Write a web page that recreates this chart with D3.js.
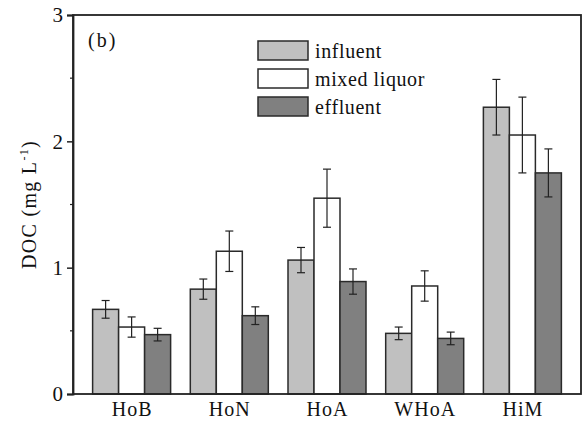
<!DOCTYPE html>
<html><head><meta charset="utf-8">
<script src="https://cdn.jsdelivr.net/npm/d3@7"></script>
<style>body{margin:0;background:#fff;} svg{display:block;} text{font-family:"Liberation Serif","Times New Roman",serif;fill:#111;}</style>
</head><body>
<script>
const categories = ["HoB","HoN","HoA","WHoA","HiM"];
const seriesNames = ["influent","mixed liquor","effluent"];
const influent = [0.67,0.83,1.06,0.48,2.27];
const influentErr = [0.07,0.08,0.10,0.05,0.22];
const mixedLiquor = [0.53,1.13,1.55,0.855,2.05];
const mixedLiquorErr = [0.08,0.16,0.23,0.12,0.30];
const effluent = [0.47,0.62,0.89,0.44,1.75];
const effluentErr = [0.05,0.07,0.10,0.05,0.19];
const yTicks = [0,1,2,3];
const yMinorTicks = [0.5,1.5,2.5];
const colors = ["#c0c0c0","#ffffff","#808080"];

const W=585,H=423;
const m={left:73,right:581,top:15,bottom:394};
const svg=d3.select("body").append("svg").attr("width",W).attr("height",H);

const x=d3.scalePoint().domain(categories).range([m.left,m.right]).padding(0.6);
const xs=d3.scaleBand().domain(seriesNames).range([-39,39]).paddingInner(0);
const y=d3.scaleLinear().domain([0,3]).range([m.bottom,m.top]);

const vals=[influent,mixedLiquor,effluent];
const errs=[influentErr,mixedLiquorErr,effluentErr];
const rows=[];
seriesNames.forEach((s,si)=>categories.forEach((c,ci)=>rows.push({s,si,c,v:vals[si][ci],e:errs[si][ci]})));

// bars
svg.append("g").selectAll("rect").data(rows).join("rect")
  .attr("x",d=>x(d.c)+xs(d.s)).attr("width",xs.bandwidth())
  .attr("y",d=>y(d.v)).attr("height",d=>y(0)-y(d.v))
  .attr("fill",d=>colors[d.si]).attr("stroke","#2a2a2a").attr("stroke-width",1.5);

// error bars
const eg=svg.append("g").attr("stroke","#222").attr("stroke-width",1.2);
rows.forEach(d=>{
  const cx=x(d.c)+xs(d.s)+xs.bandwidth()/2;
  eg.append("line").attr("x1",cx).attr("x2",cx).attr("y1",y(d.v+d.e)).attr("y2",y(d.v-d.e));
  [d.v+d.e,d.v-d.e].forEach(v=>eg.append("line").attr("x1",cx-4).attr("x2",cx+4).attr("y1",y(v)).attr("y2",y(v)));
});

// frame
svg.append("rect").attr("x",m.left).attr("y",m.top).attr("width",m.right-m.left).attr("height",m.bottom-m.top)
  .attr("fill","none").attr("stroke","#222").attr("stroke-width",1.8);

// y axis
const ya=svg.append("g").attr("transform",`translate(${m.left},0)`)
  .call(d3.axisLeft(y).tickValues(yTicks).tickFormat(d3.format("d")).tickSize(6).tickPadding(4));
ya.select(".domain").attr("stroke","#222").attr("stroke-width",1.8);
ya.selectAll(".tick line").attr("stroke","#222").attr("stroke-width",1.5);
ya.selectAll("text").attr("font-size",21).attr("font-family","Liberation Serif").attr("fill","#111");
svg.append("g").selectAll("line").data(yMinorTicks).join("line")
  .attr("x1",m.left-3).attr("x2",m.left).attr("y1",d=>y(d)).attr("y2",d=>y(d))
  .attr("stroke","#222").attr("stroke-width",1.2);

// x axis labels
const xa=svg.append("g").attr("transform",`translate(0,${m.bottom})`)
  .call(d3.axisBottom(x).tickSize(0).tickPadding(8));
xa.select(".domain").remove();
xa.selectAll("text").attr("font-size",20).attr("letter-spacing",1).attr("font-family","Liberation Serif").attr("fill","#111");

// y label
const yl=svg.append("text").attr("transform",`translate(36,${(m.top+m.bottom)/2}) rotate(-90)`)
  .attr("text-anchor","middle").attr("font-size",20).attr("letter-spacing",1.3);
yl.append("tspan").text("DOC (mg L");
yl.append("tspan").attr("font-size",12).attr("dy",-8).text("-1");
yl.append("tspan").attr("dy",8).text(")");

// panel label
svg.append("text").attr("x",88).attr("y",47).attr("font-size",20).attr("letter-spacing",2).text("(b)");

// legend
const lg=svg.append("g");
seriesNames.forEach((s,i)=>{
  const ly=41+i*28;
  lg.append("rect").attr("x",258).attr("y",ly).attr("width",50).attr("height",19)
    .attr("fill",colors[i]).attr("stroke","#2a2a2a").attr("stroke-width",1.5);
  lg.append("text").attr("x",315).attr("y",ly+17).attr("font-size",20).attr("letter-spacing",0.6).text(s);
});
</script>
</body></html>
